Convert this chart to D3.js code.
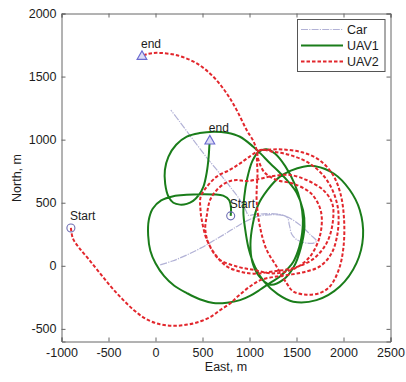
<!DOCTYPE html>
<html>
<head>
<meta charset="utf-8">
<script src="https://cdn.jsdelivr.net/npm/d3@7"></script>
<style>
  html, body { margin: 0; padding: 0; background: #fff; }
  svg text { font-family: "Liberation Sans", Arial, sans-serif; fill: #1c1c1c; }
</style>
</head>
<body>
<svg id="chart" width="406" height="382"></svg>
<script>
// Ground tracks (east, north) in metres
const car = [[50,8],[180,38],[330,85],[480,140],[620,200],[760,262],[880,318],[988,362],[1100,394],[1253,406],[1380,394],[1470,360],[1560,310],[1650,245],[1713,196],[1690,182],[1607,180],[1510,204],[1450,250],[1425,320],[1400,385],[1300,410],[1150,412],[1040,405],[990,400],[960,440],[899,522],[793,627],[680,735],[545,858],[400,1000],[260,1140],[163,1235]];

const uav1 = [[800,396],[803,460],[782,522],[720,556],[620,566],[480,568],[330,563],[190,552],[60,518],[-30,452],[-72,360],[-78,240],[-55,120],[0,20],[90,-80],[200,-158],[333,-216],[470,-265],[616,-294],[760,-292],[899,-272],[1010,-236],[1111,-190],[1220,-135],[1324,-85],[1405,-25],[1465,30],[1530,150],[1560,260],[1568,370],[1545,500],[1480,650],[1380,790],[1270,890],[1182,924],[1100,905],[1030,830],[975,690],[945,550],[935,420],[952,300],[990,140],[1060,-10],[1160,-130],[1300,-225],[1465,-285],[1713,-272],[1961,-164],[2138,21],[2208,232],[2173,443],[2067,601],[1900,730],[1700,790],[1572,786],[1440,755],[1324,707],[1190,600],[1090,480],[1035,330],[1010,170],[1030,30],[1100,-80],[1220,-150],[1360,-110],[1470,-10],[1545,140],[1585,310],[1570,440],[1500,580],[1410,670],[1320,740],[1218,813],[1111,895],[1040,944],[899,1023],[760,1055],[616,1063],[470,1052],[333,1024],[220,960],[138,866],[100,760],[103,650],[138,549],[190,500],[260,485],[333,491],[400,515],[460,560],[510,628],[545,740],[565,860],[573,950],[578,995]];

const uav2 = [[-900,300],[-878,215],[-815,145],[-720,60],[-600,-50],[-480,-160],[-360,-258],[-235,-348],[-105,-420],[40,-462],[190,-476],[340,-466],[480,-440],[600,-398],[690,-350],[790,-300],[880,-240],[1005,-164],[1130,-110],[1288,-85],[1450,-68],[1607,-45],[1748,-5],[1870,95],[1935,250],[1945,430],[1910,548],[1845,654],[1748,746],[1607,825],[1430,878],[1253,904],[1100,912],[1085,720],[1076,522],[1111,311],[1182,127],[1288,-5],[1394,-137],[1465,-203],[1607,-229],[1748,-216],[1855,-164],[1950,-30],[2000,150],[2005,380],[1965,580],[1880,730],[1740,840],[1560,900],[1350,922],[1180,920],[1100,912],[1005,868],[900,812],[793,762],[652,707],[546,627],[480,545],[478,450],[492,364],[546,206],[652,74],[758,-5],[899,-45],[1040,-62],[1250,-45],[1480,-15],[1680,55],[1820,180],[1885,340],[1880,496],[1783,601],[1607,680],[1430,720],[1253,712],[1111,690],[970,672],[864,680],[758,662],[652,601],[581,522],[546,400],[530,285],[575,160],[680,50],[864,-5],[1040,-32],[1250,-60],[1470,-25],[1640,70],[1750,240],[1760,430],[1660,570],[1470,650],[1290,680],[1160,740],[1095,840],[1076,918],[1040,990],[970,1076],[864,1234],[758,1366],[616,1498],[440,1604],[227,1669],[14,1688],[-80,1680],[-144,1665]];

const xTicks = [-1000,-500,0,500,1000,1500,2000,2500];
const yTicks = [-500,0,500,1000,1500,2000];

const series = [
  {name: "Car",  pts: car,  color: "#b2b2d6", width: 1.2, dash: "7,1.2,1.2,1.2"},
  {name: "UAV1", pts: uav1, color: "#1a7d1a", width: 2,   dash: null},
  {name: "UAV2", pts: uav2, color: "#e2262c", width: 2,   dash: "3.5,2"}
];

const svg = d3.select("#chart");
const x = d3.scaleLinear().domain([-1000, 2500]).range([61.5, 390.5]);
const y = d3.scaleLinear().domain([-600, 2000]).range([341.5, 13.5]);

const plot = svg.append("g");
const line = d3.line().x(d => x(d[0])).y(d => y(d[1])).curve(d3.curveCatmullRom.alpha(0.5));

series.forEach(s => {
  plot.append("path").datum(s.pts)
    .attr("d", line)
    .attr("fill", "none")
    .attr("stroke", s.color)
    .attr("stroke-width", s.width)
    .attr("stroke-linejoin", "round")
    .attr("stroke-dasharray", s.dash);
});

// start / end markers
const marks = [
  {pt: uav2[0], kind: "circle", label: "Start"},
  {pt: uav1[0], kind: "circle", label: "Start"},
  {pt: uav2[uav2.length - 1], kind: "triangle", label: "end"},
  {pt: uav1[uav1.length - 1], kind: "triangle", label: "end"}
];
marks.forEach(m => {
  const cx = x(m.pt[0]), cy = y(m.pt[1]);
  if (m.kind === "circle") {
    plot.append("circle").attr("cx", cx).attr("cy", cy).attr("r", 4)
      .attr("fill", "none").attr("stroke", "#6e6eb4").attr("stroke-width", 1.1);
  } else {
    plot.append("path").attr("transform", `translate(${cx},${cy + 0.8})`)
      .attr("d", d3.symbol(d3.symbolTriangle, 42)())
      .attr("fill", "#dcdcf6").attr("stroke", "#6a6ad0").attr("stroke-width", 1.1);
  }
  plot.append("text").attr("x", cx - 1).attr("y", cy - 12).attr("dy", "0.35em")
    .attr("font-size", 12).text(m.label);
});

// axes: ticks inside on all four sides
const axCol = "#666";
const fmt = d => String(d);
const gx = svg.append("g").attr("transform", "translate(0,341.5)")
  .call(d3.axisBottom(x).tickValues(xTicks).tickFormat(fmt).tickSize(-4).tickPadding(7));
const gy = svg.append("g").attr("transform", "translate(61.5,0)")
  .call(d3.axisLeft(y).tickValues(yTicks).tickFormat(fmt).tickSize(-4).tickPadding(5));
const gxt = svg.append("g").attr("transform", "translate(0,13.5)")
  .call(d3.axisTop(x).tickValues(xTicks).tickFormat("").tickSize(-4));
const gyr = svg.append("g").attr("transform", "translate(390.5,0)")
  .call(d3.axisRight(y).tickValues(yTicks).tickFormat("").tickSize(-4));
[gx, gy, gxt, gyr].forEach(g => {
  g.selectAll("path.domain").attr("stroke", axCol);
  g.selectAll(".tick line").attr("stroke", axCol);
  g.selectAll("text").attr("font-size", 12.5).attr("fill", "#1c1c1c")
    .style("font-family", '"Liberation Sans", Arial, sans-serif');
});

// axis titles
svg.append("text").attr("x", 226).attr("y", 371).attr("text-anchor", "middle")
  .attr("font-size", 12.5).text("East, m");
svg.append("text").attr("transform", "translate(21,178) rotate(-90)")
  .attr("text-anchor", "middle").attr("font-size", 12.5).text("North, m");

// legend
const lg = svg.append("g");
lg.append("rect").attr("x", 297.5).attr("y", 19.5).attr("width", 87.5).attr("height", 52)
  .attr("fill", "#fff").attr("stroke", "#555").attr("stroke-width", 1);
series.forEach((s, i) => {
  const ly = 29.5 + i * 16;
  lg.append("line").attr("x1", 301).attr("x2", 343).attr("y1", ly).attr("y2", ly)
    .attr("stroke", s.color).attr("stroke-width", s.width).attr("stroke-dasharray", s.dash);
  lg.append("text").attr("x", 347).attr("y", ly).attr("dy", "0.36em")
    .attr("font-size", 12.5).text(s.name);
});
</script>
</body>
</html>
